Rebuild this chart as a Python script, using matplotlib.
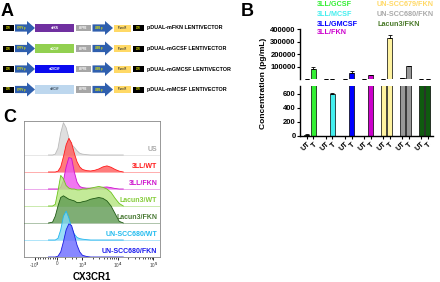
import numpy as np
import matplotlib
matplotlib.use("Agg")
import matplotlib.pyplot as plt
from matplotlib.patches import Rectangle, Polygon

plt.rcParams['font.family'] = ['Liberation Sans', 'DejaVu Sans']
plt.rcParams['font.weight'] = 'bold'

# ---------------- Panel A data ----------------
genes = ["mFKN", "mGCSF", "mGMCSF", "mMCSF"]
gene_colors = ["#7030a0", "#92d050", "#0a0af0", "#bdd7ee"]
gene_text_colors = ["white", "white", "white", "#445566"]
vector_names = ["pDUAL-mFKN LENTIVECTOR", "pDUAL-mGCSF LENTIVECTOR",
                "pDUAL-mGMCSF LENTIVECTOR", "pDUAL-mMCSF LENTIVECTOR"]

# ---------------- Panel B data ----------------
groups = ["3LL/GCSF", "3LL/MCSF", "3LL/GMCSF", "3LL/FKN",
          "UN-SCC679/FKN", "UN-SCC680/FKN", "Lacun3/FKN"]
group_colors = ["#33ee33", "#44eeee", "#0000ff", "#cc00cc",
                "#fff3a0", "#999999", "#0f5a0f"]
legend_colors = ["#33ee33", "#44eeee", "#0000ff", "#cc00cc",
                 "#ffd966", "#aaaaaa", "#4a7a2a"]
ut_vals = [15, 0, 0, 0, 3000, 8000, 2500]
t_vals = [80000, 600, 50000, 30000, 325000, 105000, 2500]
ut_err = [12, 0, 0, 0, 0, 0, 0]
t_err = [15000, 20, 12000, 3000, 30000, 3000, 0]
xtick_labels = ["UT", "T"]

# ---------------- Panel C data ----------------
hist_x = [18, 21, 23, 25, 27, 29, 31, 33, 35, 37, 39, 41, 43, 46, 49, 52,
          55, 58, 61, 64, 67, 70, 73]
hist_names = ["US", "3LL/WT", "3LL/FKN", "Lacun3/WT", "Lacun3/FKN",
              "UN-SCC680/WT", "UN-SCC680/FKN"]
hist_vals = {
    "US":            [0, 0, 0.05, 0.4, 1.3, 1.9, 1.6, 1.0, 0.6, 0.45, 0.25, 0.1, 0.05, 0.02, 0, 0, 0, 0, 0, 0, 0, 0, 0],
    "3LL/WT":        [0, 0, 0, 0.05, 0.3, 0.9, 1.6, 1.98, 1.7, 1.1, 0.6, 0.3, 0.15, 0.08, 0.06, 0.1, 0.18, 0.3, 0.36, 0.28, 0.15, 0.05, 0],
    "3LL/FKN":       [0, 0, 0, 0, 0.1, 0.5, 1.3, 1.85, 1.8, 1.0, 0.4, 0.15, 0.08, 0.05, 0.05, 0.05, 0.06, 0.1, 0.12, 0.08, 0.03, 0, 0],
    "Lacun3/WT":     [0, 0, 0.1, 0.9, 1.8, 1.6, 1.2, 1.05, 1.0, 1.0, 0.95, 0.95, 1.0, 1.0, 1.05, 1.1, 1.15, 1.1, 1.0, 0.8, 0.45, 0.15, 0],
    "Lacun3/FKN":    [0, 0.05, 0.4, 1.0, 1.5, 1.6, 1.5, 1.4, 1.35, 1.3, 1.2, 1.2, 1.25, 1.3, 1.4, 1.45, 1.5, 1.45, 1.3, 1.0, 0.55, 0.1, 0],
    "UN-SCC680/WT":  [0, 0, 0, 0.1, 0.6, 1.4, 1.7, 1.3, 0.7, 0.35, 0.15, 0.08, 0.05, 0.02, 0, 0, 0, 0, 0, 0, 0, 0, 0],
    "UN-SCC680/FKN": [0, 0, 0, 0.05, 0.3, 0.9, 1.6, 1.95, 1.85, 1.3, 0.7, 0.3, 0.1, 0.03, 0, 0, 0, 0, 0, 0, 0, 0, 0],
}
hist_fill = ["#d8d8d8", "#ff5a5a", "#ee55ee", "#b5e57f", "#5f9a52", "#7fd8f5", "#6a6aff"]
hist_edge = ["#bbbbbb", "#ff1a1a", "#cc11cc", "#6cc41c", "#1f5a14", "#22b5ee", "#1a1ae0"]
hist_label_colors = ["#aaaaaa", "#ff1a1a", "#cc11cc", "#86cc3a", "#4a7a35", "#22bbee", "#1a1aee"]
c_tick_pos = [8, 24, 43, 69, 95]
c_tick_labels = [r"-10$^3$", "0", r"10$^3$", r"10$^4$", r"10$^5$"]

W, H = 440, 282
fig = plt.figure(figsize=(4.4, 2.82), dpi=100)

def rect(x0, y0, x1, y1):
    return [x0 / W, 1 - y1 / H, (x1 - x0) / W, (y1 - y0) / H]

# ---------------- background axes (panel A + letters) ----------------
bg = fig.add_axes([0, 0, 1, 1])
bg.set_xlim(0, W)
bg.set_ylim(H, 0)
bg.axis('off')

row_y = [28, 48.5, 69, 89.5]
arrow_col = "#2f5fae"
ytxt = "#e8e800"
def arrow(ax, x0, xm, x1, yc, hb, hh):
    pts = [(x0, yc - hb), (xm, yc - hb), (xm, yc - hh), (x1, yc),
           (xm, yc + hh), (xm, yc + hb), (x0, yc + hb)]
    ax.add_patch(Polygon(pts, closed=True, facecolor=arrow_col, edgecolor='none'))

for i, yc in enumerate(row_y):
    bg.add_patch(Rectangle((3, yc - 3), 10.5, 6, facecolor='black'))
    bg.text(8.2, yc, "LTR", color=ytxt, fontsize=1.8, ha='center', va='center')
    arrow(bg, 15, 27, 35, yc, 3.6, 7)
    bg.text(21, yc, "SFFV p", color=ytxt, fontsize=1.8, ha='center', va='center')
    bg.add_patch(Rectangle((35, yc - 4.3), 39, 8.6, facecolor=gene_colors[i]))
    bg.text(54.5, yc, genes[i], color=gene_text_colors[i], fontsize=1.9, ha='center', va='center')
    bg.add_patch(Rectangle((75.5, yc - 3.3), 15, 6.6, facecolor="#a6a6a6"))
    bg.text(83, yc, "WPRE", color='white', fontsize=1.8, ha='center', va='center')
    arrow(bg, 92.5, 105, 113, yc, 3.6, 7)
    bg.text(99, yc, "UBB p", color=ytxt, fontsize=1.8, ha='center', va='center')
    bg.add_patch(Rectangle((113.5, yc - 3.5), 17, 7, facecolor="#ffd966"))
    bg.text(122, yc, "Puro R", color='#333333', fontsize=1.8, ha='center', va='center')
    bg.add_patch(Rectangle((132.5, yc - 3), 11, 6, facecolor='black'))
    bg.text(138, yc, "LTR", color=ytxt, fontsize=1.8, ha='center', va='center')
    bg.text(147, yc, vector_names[i], color='black', fontsize=3.9, ha='left', va='center',
            fontweight='heavy')

bg.text(1, 11, "A", fontsize=13, fontweight='bold', ha='left', va='center')
bg.text(241, 11, "B", fontsize=13, fontweight='bold', ha='left', va='center')
bg.text(3, 118, "C", fontsize=13, fontweight='bold', ha='left', va='center')

# ---------------- Panel B ----------------
ng = len(groups)
gsp, off, bw = 19.1, 6.6, 5.0
ut_x = np.arange(ng) * gsp
t_x = ut_x + off
xl = (-6.7, 126.3)

axU = fig.add_axes(rect(300, 29, 433, 79))
axL = fig.add_axes(rect(300, 86, 433, 136))
for ax, yl in ((axU, (700, 400000)), (axL, (0, 714))):
    ax.bar(ut_x, ut_vals, width=bw, color=group_colors, edgecolor='black', linewidth=0.5)
    ax.bar(t_x, t_vals, width=bw, color=group_colors, edgecolor='black', linewidth=0.5)
    ax.errorbar(ut_x, ut_vals, yerr=[np.zeros(ng), ut_err], fmt='none', ecolor='black',
                elinewidth=0.6, capsize=1.4, capthick=0.6)
    ax.errorbar(t_x, t_vals, yerr=[np.zeros(ng), t_err], fmt='none', ecolor='black',
                elinewidth=0.6, capsize=1.4, capthick=0.6)
    ax.set_xlim(*xl)
    ax.set_ylim(*yl)
    for s in ('top', 'right'):
        ax.spines[s].set_visible(False)
    ax.spines['left'].set_linewidth(1.0)
    ax.tick_params(axis='y', labelsize=5.5, width=0.8, length=2, pad=1)

axU.spines['bottom'].set_visible(False)
axU.set_xticks([])
axU.set_yticks([100000, 200000, 300000, 400000])
axU.set_yticklabels([str(v) for v in [100000, 200000, 300000, 400000]], fontweight='bold')

axL.set_yticks([0, 200, 400, 600])
axL.set_yticklabels(["0", "200", "400", "600"], fontweight='bold')
axL.spines['bottom'].set_linewidth(1.0)
xt = np.ravel(np.column_stack([ut_x, t_x]))
axL.set_xticks(xt)
axL.set_xticklabels(xtick_labels * ng, rotation=45, ha='right', rotation_mode='anchor',
                    fontsize=5.3, fontweight='bold')
axL.tick_params(axis='x', width=0.8, length=2.5, pad=1)

fig.text(263 / W, 1 - 83 / H, "Concentration (pg/mL)", rotation=90, ha='center', va='center',
         fontsize=6, fontweight='bold')

leg_pos = [(317, 5), (317, 15), (317, 24), (317, 33), (377, 5), (377, 15), (377, 24)]
for (lx, ly), name, col in zip(leg_pos, groups, legend_colors):
    fig.text(lx / W, 1 - ly / H, name, color=col, fontsize=5.2, fontweight='bold',
             ha='left', va='center')

# ---------------- Panel C ----------------
axC = fig.add_axes(rect(24, 121, 160, 257))
nrow = len(hist_names)
for k, name in enumerate(hist_names):
    base = nrow - 1 - k
    yv = np.array(hist_vals[name]) + base
    axC.axhline(base, color=hist_edge[k], lw=0.5, alpha=0.5, zorder=2 * k)
    axC.fill_between(hist_x, base, yv, facecolor=hist_fill[k], alpha=0.8, edgecolor='none',
                     zorder=2 * k + 1)
    axC.plot(hist_x, yv, color=hist_edge[k], lw=0.6, zorder=2 * k + 1.5)
    axC.text(98, base + 0.35, name, color=hist_label_colors[k], fontsize=5, fontweight='bold',
             ha='right', va='center', zorder=20)
axC.set_xlim(0, 100)
axC.set_ylim(0, 8.0)
axC.set_yticks([])
axC.set_xticks(c_tick_pos)
axC.set_xticklabels(c_tick_labels, fontsize=3.4, fontweight='normal', color='#444444')
minor = list(np.linspace(10, 23, 8)) + [43 + 26 * np.log10(k) for k in range(2, 10)] + \
        [69 + 26 * np.log10(k) for k in range(2, 10)] + [30, 35, 38]
axC.set_xticks(minor, minor=True)
axC.tick_params(axis='x', which='major', length=2.2, width=0.6, pad=0.6)
axC.tick_params(axis='x', which='minor', length=1.3, width=0.5)
for s in axC.spines.values():
    s.set_color('#888888')
    s.set_linewidth(0.6)
fig.text(92 / W, 1 - 277 / H, "CX3CR1", fontsize=7.0, fontweight='bold',
         ha='center', va='center')

fig.savefig("out.png", dpi=100)
